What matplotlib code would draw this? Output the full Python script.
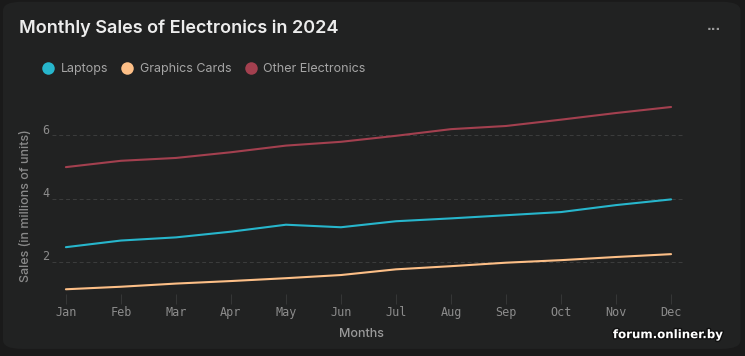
import matplotlib
matplotlib.use('Agg')
import matplotlib.pyplot as plt
import matplotlib.transforms as mtransforms
from matplotlib.lines import Line2D
from matplotlib.patches import FancyBboxPatch
import matplotlib.patheffects as pe

months = ['Jan', 'Feb', 'Mar', 'Apr', 'May', 'Jun', 'Jul', 'Aug', 'Sep', 'Oct', 'Nov', 'Dec']
laptops = [2.47, 2.68, 2.78, 2.96, 3.18, 3.1, 3.29, 3.38, 3.48, 3.58, 3.8, 3.98]
graphics_cards = [1.14, 1.22, 1.32, 1.4, 1.49, 1.59, 1.77, 1.87, 1.98, 2.06, 2.16, 2.25]
other_electronics = [5.0, 5.2, 5.29, 5.47, 5.68, 5.8, 5.99, 6.2, 6.3, 6.5, 6.71, 6.9]
series_names = ['Laptops', 'Graphics Cards', 'Other Electronics']
colors = ['#27b6cc', '#fdbf87', '#a3404f']
y_ticks = [2, 4, 6]

BG = '#212222'
OUTER = '#1a1a1a'

fig = plt.figure(figsize=(7.45, 3.56), dpi=100, facecolor=OUTER)

# card background, kept behind the axes
card = FancyBboxPatch((0.004, 0.02), 0.99, 0.975, boxstyle='round,pad=0,rounding_size=0.025',
                      transform=fig.transFigure, facecolor=BG, edgecolor='none', zorder=-10)
fig.patches.append(card)

ax = fig.add_axes([0.07, 0.175, 0.847, 0.56])
ax.set_facecolor('none')

x = list(range(len(months)))
for vals, c in zip([laptops, graphics_cards, other_electronics], colors):
    ax.plot(x, vals, color=c, linewidth=1.5, solid_capstyle='round', zorder=3)

ax.set_xlim(-0.25, 11.22)
ax.set_ylim(1.0, 7.3)
ax.set_xticks(x)
ax.set_xticklabels(months, family='DejaVu Sans Mono', fontsize=8.5, color='#8c8c8c')
ax.set_yticks(y_ticks)
ax.set_yticklabels([str(v) for v in y_ticks], family='DejaVu Sans Mono', fontsize=8.5, color='#8c8c8c')
ax.tick_params(axis='x', length=7, width=0.6, color='#3a3b3b', pad=2, direction='out')
ax.tick_params(axis='y', length=0, pad=2)
# nudge y labels upward so they sit above their grid lines
for lbl in ax.get_yticklabels():
    lbl.set_transform(lbl.get_transform() + mtransforms.ScaledTranslation(0, 5 / 72, fig.dpi_scale_trans))

ax.grid(axis='y', color='#3c3d3d', linestyle=(0, (4, 3)), linewidth=0.7)
for s in ax.spines.values():
    s.set_visible(False)

ax.set_xlabel('Months', fontsize=9, color='#9a9a9a', family='Inter', fontweight='medium', labelpad=0)
ax.xaxis.set_label_coords(0.49, -0.17)
ax.set_ylabel('Sales (in millions of units)', fontsize=9, color='#8a8a8a', family='Inter', fontweight='medium')
ax.yaxis.set_label_coords(-0.032, 0.44)

fig.text(0.025, 0.92, 'Monthly Sales of Electronics in 2024', fontsize=13, color='#ececec',
         family='Inter', fontweight='semibold', va='center')
fig.text(0.958, 0.925, '...', fontsize=9, color='#9a9a9a', ha='center', va='center', fontweight='bold')

handles = [Line2D([], [], marker='o', linestyle='none', markersize=9, markerfacecolor=c,
                  markeredgecolor='none') for c in colors]
leg = fig.legend(handles, series_names, loc='center left', bbox_to_anchor=(0.041, 0.806), ncol=3,
                 frameon=False, handletextpad=0.5, columnspacing=1.05, handlelength=1.0,
                 prop={'family': 'Inter', 'size': 9})
for t in leg.get_texts():
    t.set_color('#a5a5a5')

fig.text(0.97, 0.06, 'forum.onliner.by', fontsize=8.5, color='white', fontweight='bold', ha='right',
         va='center', family='DejaVu Sans',
         path_effects=[pe.withStroke(linewidth=2, foreground='#111111')])

fig.savefig('out.png', dpi=100, facecolor=OUTER)
